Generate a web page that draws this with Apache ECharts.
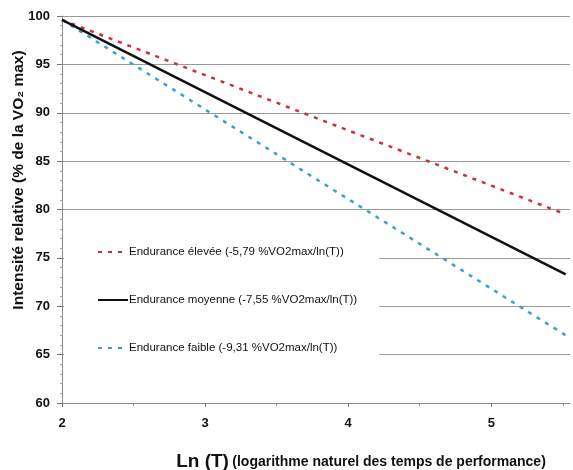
<!DOCTYPE html>
<html><head><meta charset="utf-8">
<script src="https://cdn.jsdelivr.net/npm/echarts@6/dist/echarts.min.js"></script>
<style>html,body{margin:0;padding:0;background:#fff}#c{width:573px;height:470px}</style>
</head><body><div id="c"></div>
<script>
var xValues = [2, 5.52];
var serieNames = ['Endurance élevée (-5,79 %VO2max/ln(T))', 'Endurance moyenne (-7,55 %VO2max/ln(T))', 'Endurance faible (-9,31 %VO2max/ln(T))'];
var eleveeValues = [99.6, 79.5];
var moyenneValues = [99.6, 73.3];
var faibleValues = [99.6, 67.0];
var xTickLabels = [2, 3, 4, 5];
var yTicks = [60, 65, 70, 75, 80, 85, 90, 95, 100];

function pairs(ys){ return xValues.map(function(x,i){ return [x, ys[i]]; }); }
var FONT = "'Liberation Sans Narrow','Liberation Sans',Arial,sans-serif";
var chart = echarts.init(document.getElementById('c'));
chart.setOption({
  backgroundColor: '#fff',
  animation: false,
  grid: {left: 62, right: 3, top: 16, bottom: 67, containLabel: false},
  xAxis: {
    type: 'value', min: 2, max: 5.55, interval: 1,
    axisLine: {show: true, lineStyle: {color: '#888', width: 1}},
    axisTick: {show: true, length: 4, lineStyle: {color: '#777'}, customValues: xTickLabels},
    minorTick: {show: true, splitNumber: 2, length: 3, lineStyle: {color: '#999'}},
    axisLabel: {customValues: xTickLabels, color: '#111', fontWeight: 'bold', fontSize: 13, fontFamily: 'Arial, sans-serif', margin: 14},
    splitLine: {show: false}
  },
  yAxis: {
    type: 'value', min: 60, max: 100, interval: 5,
    axisLine: {show: true, lineStyle: {color: '#888', width: 1}},
    axisTick: {show: true, length: 5, lineStyle: {color: '#777'}},
    minorTick: {show: true, splitNumber: 5, length: 2, lineStyle: {color: '#aaa'}},
    axisLabel: {color: '#111', fontWeight: 'bold', fontSize: 13, fontFamily: 'Arial, sans-serif', margin: 12},
    splitLine: {show: true, lineStyle: {color: '#999', width: 1}}
  },
  legend: {
    orient: 'vertical', left: 64, top: 240,
    itemGap: 36, itemWidth: 30, itemHeight: 12,
    backgroundColor: '#fff',
    padding: [6, 22, 6, 33],
    itemStyle: {opacity: 0},
    textStyle: {color: '#111', fontSize: 11.5, fontFamily: FONT, padding: [0, 0, 0, -4]},
    data: serieNames
  },
  graphic: [
    {type: 'text', x: 19, y: 180, rotation: Math.PI/2, style: {text: 'Intensité relative (% de la VO₂ max)', font: 'bold 15.5px Arial, sans-serif', fill: '#111', align: 'center', verticalAlign: 'middle'}},
    {type: 'text', x: 361, y: 462, style: {text: '{a|Ln (T)} {b|(logarithme naturel des temps de performance)}', rich: {a: {font: 'bold 19px Arial, sans-serif', fill: '#111'}, b: {font: 'bold 14px ' + FONT, fill: '#111'}}, align: 'center', verticalAlign: 'middle'}}
  ],
  series: [
    {name: serieNames[0], type: 'line', symbol: 'none', data: pairs(eleveeValues), z: 3,
     lineStyle: {color: '#c9313c', width: 2.5, type: [4, 6]}, itemStyle: {color: '#c9313c'}},
    {name: serieNames[1], type: 'line', symbol: 'none', data: pairs(moyenneValues), z: 4,
     lineStyle: {color: '#111', width: 2.5, type: 'solid'}, itemStyle: {color: '#111'}},
    {name: serieNames[2], type: 'line', symbol: 'none', data: pairs(faibleValues), z: 3,
     lineStyle: {color: '#3a9fd9', width: 2.5, type: [4, 6]}, itemStyle: {color: '#3a9fd9'}}
  ]
});
</script></body></html>
